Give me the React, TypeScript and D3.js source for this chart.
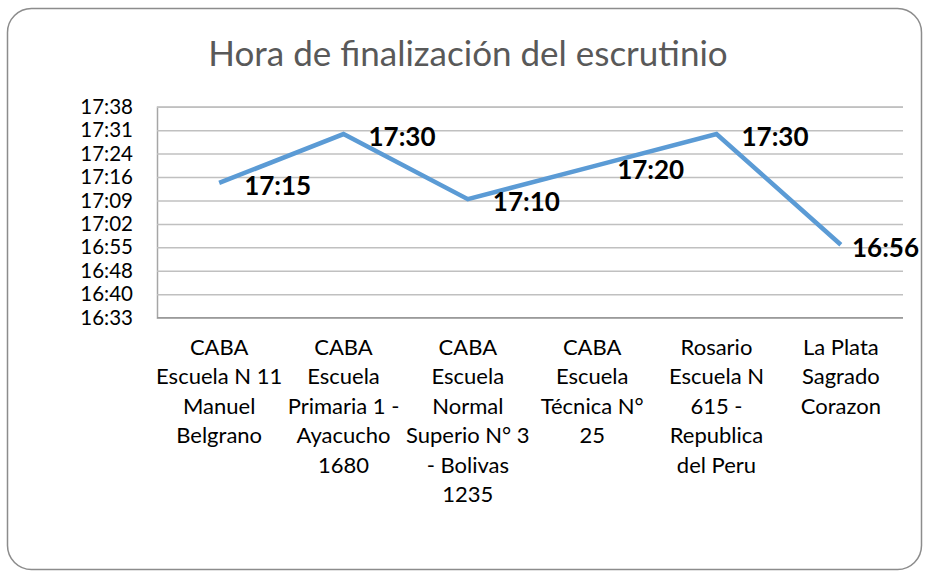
import React, { useRef, useEffect } from "react";
import * as d3 from "d3";

const chartTitle = "Hora de finalización del escrutinio";

// category names, already broken into lines as in the picture
const categories = [
  ["CABA", "Escuela N 11", "Manuel", "Belgrano"],
  ["CABA", "Escuela", "Primaria 1 -", "Ayacucho", "1680"],
  ["CABA", "Escuela", "Normal", "Superio N° 3", "- Bolivas", "1235"],
  ["CABA", "Escuela", "Técnica N°", "25"],
  ["Rosario", "Escuela N", "615 -", "Republica", "del Peru"],
  ["La Plata", "Sagrado", "Corazon"],
];

const finishTimes = ["17:15", "17:30", "17:10", "17:20", "17:30", "16:56"];

const tickLabels = ["16:33", "16:40", "16:48", "16:55", "17:02", "17:09", "17:16", "17:24", "17:31", "17:38"];

// axis in fractions of a day, like the spreadsheet
const axisMin = 0.69;
const axisMax = 0.735;
const axisStep = 0.005;

const toDay = (t: string) => {
  const [h, m] = t.split(":").map(Number);
  return (h * 60 + m) / 1440;
};

const FONT = "Lato, 'Open Sans', sans-serif";

const App = () => {
  const svgRef = useRef<SVGSVGElement>(null);

  useEffect(() => {
    const width = 928;
    const height = 576;
    const svg = d3.select(svgRef.current);
    svg.selectAll("*").remove();
    svg.attr("width", width).attr("height", height);

    const left = 157;
    const right = 903;
    const top = 106.7;
    const bottom = 317.7;

    // outer frame
    svg
      .append("rect")
      .attr("x", 7.5)
      .attr("y", 8.5)
      .attr("width", 914)
      .attr("height", 561)
      .attr("rx", 24)
      .attr("fill", "#fff")
      .attr("stroke", "#8c8c8c")
      .attr("stroke-width", 1.5);

    svg
      .append("text")
      .attr("x", 468)
      .attr("y", 66)
      .attr("text-anchor", "middle")
      .attr("font-family", FONT)
      .attr("font-size", 35)
      .attr("fill", "#595959")
      .text(chartTitle);

    const x = d3
      .scaleBand<number>()
      .domain(d3.range(categories.length))
      .range([left, right]);

    const y = d3.scaleLinear().domain([axisMin, axisMax]).range([bottom, top]);

    const tickValues = tickLabels.map((_, i) => axisMin + i * axisStep);

    const yAxis = svg
      .append("g")
      .attr("transform", `translate(${left},0)`)
      .call(
        d3
          .axisLeft(y)
          .tickValues(tickValues)
          .tickFormat((_, i) => tickLabels[i])
          .tickSize(-(right - left))
          .tickPadding(24)
      );
    yAxis.select(".domain").attr("stroke", "#a6a6a6").attr("stroke-width", 1.5);
    yAxis.selectAll(".tick line").attr("stroke", "#c0c0c0").attr("stroke-width", 1.5);
    yAxis
      .selectAll(".tick text")
      .attr("font-family", FONT)
      .attr("font-size", 20.5)
      .attr("fill", "#000");

    // bottom axis line
    svg
      .append("line")
      .attr("x1", left)
      .attr("x2", right)
      .attr("y1", y(axisMin))
      .attr("y2", y(axisMin))
      .attr("stroke", "#9a9a9a")
      .attr("stroke-width", 1.5);

    // category labels
    const cat = svg
      .append("g")
      .selectAll("text")
      .data(categories)
      .enter()
      .append("text")
      .attr("text-anchor", "middle")
      .attr("font-family", FONT)
      .attr("font-size", 22)
      .attr("fill", "#000");
    cat.each(function (lines, i) {
      const t = d3.select(this);
      lines.forEach((ln, j) => {
        t.append("tspan")
          .attr("x", x(i)! + x.bandwidth() / 2)
          .attr("y", 355 + j * 29.4)
          .text(ln);
      });
    });

    const values = finishTimes.map(toDay);
    const cx = (i: number) => x(i)! + x.bandwidth() / 2;

    const line = d3
      .line<number>()
      .x((_, i) => cx(i))
      .y((d) => y(d));

    svg
      .append("path")
      .datum(values)
      .attr("d", line)
      .attr("fill", "none")
      .attr("stroke", "#5b9bd5")
      .attr("stroke-width", 4.5)
      .attr("stroke-linejoin", "miter");

    // data labels to the right of each point, kept inside the frame
    const labels = svg
      .append("g")
      .selectAll("text")
      .data(finishTimes)
      .enter()
      .append("text")
      .attr("font-family", FONT)
      .attr("font-weight", "bold")
      .attr("font-size", 26)
      .attr("fill", "#000")
      .attr("dominant-baseline", "central")
      .attr("y", (d) => y(toDay(d)) + 2)
      .text((d) => d);
    labels.attr("x", function (_, i) {
      const w = (this as SVGTextElement).getComputedTextLength();
      return Math.min(cx(i) + 25, 919 - w);
    });
  }, []);

  return (
    <div style={{ position: "absolute", left: 0, top: 0 }}>
      <svg ref={svgRef} style={{ display: "block" }}></svg>
    </div>
  );
};

export default App;
